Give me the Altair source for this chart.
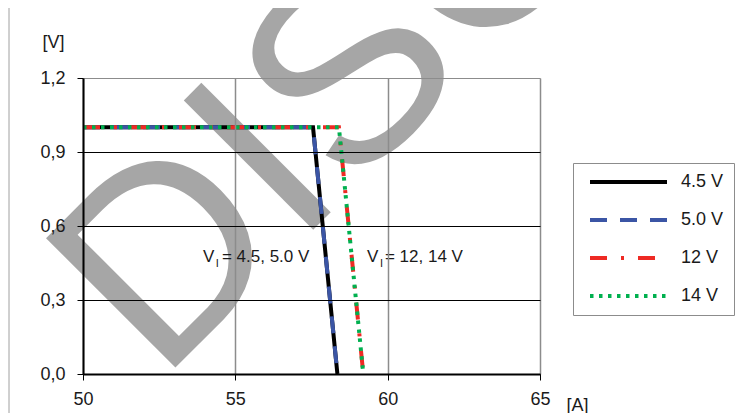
import altair as alt
import pandas as pd

# Series data (A -> V)
series = ["4.5 V", "5.0 V", "12 V", "14 V"]
x_45 = [50.0, 57.55, 58.35]
y_45 = [1.0, 1.0, 0.0]
x_50 = [50.0, 57.55, 58.35]
y_50 = [1.0, 1.0, 0.0]
x_12 = [50.0, 58.4, 59.2]
y_12 = [1.0, 1.0, 0.0]
x_14 = [50.0, 58.4, 59.2]
y_14 = [1.0, 1.0, 0.0]

colors = ["#000000", "#3b55a5", "#ee2a24", "#00b04f"]
dashes = [[1, 0], [17, 13], [17, 14, 3, 14], [3.5, 5.5]]

x_ticks = [50, 55, 60, 65]
y_ticks = [0.0, 0.3, 0.6, 0.9, 1.2]

label_text = ["V", "= 4.5, 5.0 V", "V", "= 12, 14 V"]
label_x = [53.94, 54.56, 59.32, 59.91]
label_y = [0.474, 0.474, 0.474, 0.474]
sub_text = ["I", "I"]
sub_x = [54.36, 59.75]
sub_y = [0.447, 0.447]

rows = []
for s, xs, ys in zip(series, [x_45, x_50, x_12, x_14], [y_45, y_50, y_12, y_14]):
    for i, (a, b) in enumerate(zip(xs, ys)):
        rows.append({"series": s, "A": a, "V": b, "i": i})
df = pd.DataFrame(rows)

FONT = "Liberation Sans"
TXT = "#1a1a1a"

xscale = alt.Scale(domain=[50, 65], nice=False, zero=False)
yscale = alt.Scale(domain=[0, 1.2], nice=False, zero=False)

x_axis = alt.Axis(values=x_ticks, title="[A]", titleX=494, titleY=31, titleAngle=0,
                  titleAlign="center", titleBaseline="middle", titleFontSize=18,
                  titleFontWeight="normal", titleFont=FONT, titleColor=TXT,
                  labelFontSize=18, labelFont=FONT, labelColor=TXT, labelPadding=10,
                  tickSize=6, tickColor="#000", domainColor="#000", domainWidth=2,
                  gridColor="#8c8c8c", gridWidth=1.5, labelFlush=False, zindex=1)
y_axis = alt.Axis(values=y_ticks, title="[V]", titleX=-30, titleY=-36, titleAngle=0,
                  titleAlign="center", titleBaseline="middle", titleFontSize=18,
                  titleFontWeight="normal", titleFont=FONT, titleColor=TXT,
                  labelFontSize=18, labelFont=FONT, labelColor=TXT, labelPadding=12,
                  labelExpr="replace(format(datum.value, '.1f'), '.', ',')",
                  tickSize=6, tickColor="#000", domainColor="#000", domainWidth=2,
                  gridColor={"condition": {"test": "datum.value == 1.2", "value": "#8c8c8c"}, "value": "#000"},
                  gridWidth=1, labelFlush=False, zindex=1)

frame = alt.Chart(pd.DataFrame({"a": [0]})).mark_rect(
    fill=None, stroke="#a0a0a0", strokeWidth=1
).encode(x=alt.value(-74), x2=alt.value(720), y=alt.value(-71), y2=alt.value(420))

watermark = alt.Chart(pd.DataFrame({"t": ["DISCONTINUED"]})).mark_text(
    font=FONT, fontSize=266, color="#a6a6a6", angle=315, align="left", baseline="alphabetic"
).encode(text="t:N", x=alt.value(77), y=alt.value(305))

lines = alt.Chart(df).mark_line(strokeWidth=4, clip=True).encode(
    x=alt.X("A:Q", scale=xscale, axis=x_axis),
    y=alt.Y("V:Q", scale=yscale, axis=y_axis),
    color=alt.Color("series:N", scale=alt.Scale(domain=series, range=colors),
                    legend=alt.Legend(title=None, orient="none", legendX=490, legendY=85,
                                      padding=10, strokeColor="#8c8c8c",
                                      symbolType="stroke", symbolSize=5929, symbolStrokeWidth=4,
                                      symbolOffset=5,
                                      labelFontSize=18, labelFont=FONT, labelColor=TXT,
                                      labelOffset=12, rowPadding=20, clipHeight=18)),
    strokeDash=alt.StrokeDash("series:N", scale=alt.Scale(domain=series, range=dashes)),
    order="i:Q",
    detail="series:N",
)

labels_df = pd.DataFrame({"t": label_text, "x": label_x, "y": label_y})
subs_df = pd.DataFrame({"t": sub_text, "x": sub_x, "y": sub_y})

labels = alt.Chart(labels_df).mark_text(font=FONT, fontSize=17, color=TXT,
                                        align="left", baseline="middle").encode(
    x=alt.X("x:Q", scale=xscale), y=alt.Y("y:Q", scale=yscale), text="t:N")
subs = alt.Chart(subs_df).mark_text(font=FONT, fontSize=11, color=TXT,
                                    align="left", baseline="middle").encode(
    x=alt.X("x:Q", scale=xscale), y=alt.Y("y:Q", scale=yscale), text="t:N")

chart = alt.layer(frame, watermark, lines, labels, subs).properties(
    width=457, height=296,
    autosize=alt.AutoSizeParams(type="none"),
    padding={"left": 75, "top": 70, "right": 198, "bottom": 40},
).configure_view(stroke="#8c8c8c", strokeWidth=2.5).configure_legend(strokeWidth=1.5).configure(background="white")

chart.save("out.html", embed_options={"renderer": "svg", "actions": False})
